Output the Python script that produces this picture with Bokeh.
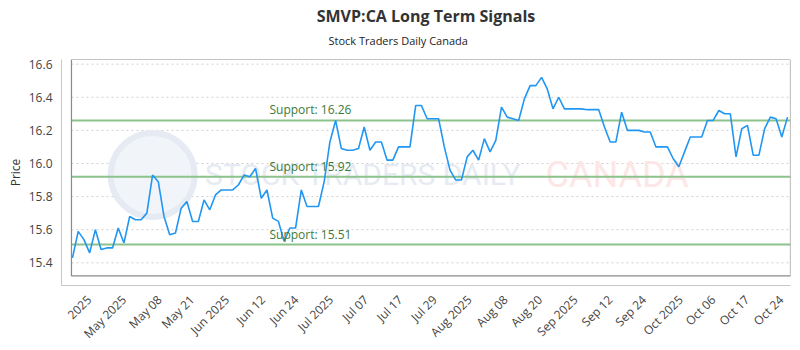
import numpy as np
from bokeh.plotting import figure
from bokeh.models import Label, BoxAnnotation, FixedTicker, ColumnDataSource, PrintfTickFormatter, Title
from bokeh.embed import file_html
from bokeh.resources import INLINE

# ---------------- data ----------------
prices = [
    15.43, 15.59, 15.54, 15.46, 15.60, 15.48, 15.49, 15.49, 15.61, 15.52,
    15.68, 15.66, 15.66, 15.70, 15.93, 15.89, 15.68, 15.57, 15.58, 15.73,
    15.77, 15.65, 15.65, 15.78, 15.72, 15.81, 15.84, 15.84, 15.84, 15.87,
    15.93, 15.92, 15.97, 15.79, 15.84, 15.67, 15.65, 15.53, 15.61, 15.61,
    15.84, 15.74, 15.74, 15.74, 15.89, 16.13, 16.26, 16.09, 16.08, 16.08,
    16.09, 16.22, 16.08, 16.13, 16.13, 16.02, 16.02, 16.10, 16.10, 16.10,
    16.35, 16.35, 16.27, 16.27, 16.27, 16.10, 15.96, 15.90, 15.90, 16.04,
    16.08, 16.02, 16.15, 16.07, 16.14, 16.34, 16.28, 16.27, 16.26, 16.39,
    16.47, 16.47, 16.52, 16.45, 16.33, 16.40, 16.33, 16.33, 16.33, 16.33,
    16.325, 16.325, 16.325, 16.22, 16.13, 16.13, 16.31, 16.20, 16.20, 16.20,
    16.19, 16.19, 16.10, 16.10, 16.10, 16.03, 15.98, 16.07, 16.16, 16.16,
    16.16, 16.26, 16.26, 16.32, 16.30, 16.30, 16.04, 16.21, 16.23, 16.05,
    16.05, 16.21, 16.28, 16.27, 16.16, 16.28,
]
tick_pos = [2.9, 9.0, 15.2, 20.9, 27.0, 33.3, 39.1, 45.2, 51.3, 57.3, 63.3, 69.4,
            75.7, 81.7, 87.9, 94.0, 99.9, 106.3, 112.0, 117.9, 123.9]
tick_labels = ["2025", "May 2025", "May 08", "May 21", "Jun 2025", "Jun 12", "Jun 24",
               "Jul 2025", "Jul 07", "Jul 17", "Jul 29", "Aug 2025", "Aug 08", "Aug 20",
               "Sep 2025", "Sep 12", "Sep 24", "Oct 2025", "Oct 06", "Oct 17", "Oct 24"]
y_ticks = [15.4, 15.6, 15.8, 16.0, 16.2, 16.4, 16.6]
support_levels = [16.26, 15.92, 15.51]
title_text = "SMVP:CA Long Term Signals"
subtitle_text = "Stock Traders Daily Canada"

# ---------------- layout constants ----------------
X_START, X_END = -1.92, 125.52
Y_START, Y_END = 15.263, 16.628
INNER_LEFT = -0.175
INNER_BOTTOM = 15.321
FONT = "Open Sans"

idx = list(range(len(prices)))
src = ColumnDataSource(data=dict(x=idx, y=prices))

p = figure(width=800, height=350, output_backend="svg", toolbar_location=None,
           x_range=(X_START, X_END), y_range=(Y_START, Y_END),
           min_border_left=61, min_border_right=10, min_border_top=59, min_border_bottom=54,
           title=None)
p.outline_line_color = None
p.background_fill_color = "white"
p.border_fill_color = "white"

# titles: spacer (closest to frame), subtitle, main title
p.add_layout(Title(text=" ", text_font_size="1px", standoff=9), "above")
p.add_layout(Title(text=subtitle_text, align="left", offset=267, text_font=FONT,
                   text_font_size="11px", text_font_style="normal", text_color="#222222",
                   standoff=0), "above")
p.add_layout(Title(text=title_text, align="center", offset=-25, text_font=FONT,
                   text_font_size="16px", text_font_style="bold", text_color="#333333",
                   vertical_align="top", standoff=4), "above")

# grid off; own dotted gridlines inside the inner box
p.xgrid.visible = False
p.ygrid.visible = False
p.segment(x0=[INNER_LEFT] * len(y_ticks), x1=[X_END] * len(y_ticks), y0=y_ticks, y1=y_ticks,
          line_color="#d0d0d0", line_width=1, line_dash="2 3", level="underlay")

# watermark
wm_x = X_START + (X_END - X_START) * 0.125
wm_y = Y_START + (Y_END - Y_START) * 0.489
p.scatter(x=[wm_x], y=[wm_y], size=84, marker="circle", fill_color="#f1f4f9",
          line_color="#e6ebf3", line_width=6, level="underlay")
p.add_layout(Label(x=X_START + (X_END - X_START) * 0.197, y=wm_y, text="STOCK TRADERS DAILY",
                   text_font="Roboto", text_font_size="30px",
                   text_color="#e6ebf3", text_baseline="middle", level="underlay"))
p.add_layout(Label(x=X_START + (X_END - X_START) * 0.664, y=wm_y, text="CANADA",
                   text_font="Roboto", text_font_size="36px",
                   text_color="#fde6e6", text_baseline="middle", level="underlay"))

# inner box
p.add_layout(BoxAnnotation(left=INNER_LEFT, right=X_END, bottom=INNER_BOTTOM, top=Y_END,
                           fill_alpha=0, line_color="#8a8a8a", line_alpha=1.0,
                           line_dash="solid", line_width=1.2))

# support lines
p.segment(x0=[INNER_LEFT] * len(support_levels), x1=[X_END] * len(support_levels),
          y0=support_levels, y1=support_levels, line_color="#8cc28c", line_width=2)
for lvl in support_levels:
    p.add_layout(Label(x=34.44, y=lvl, y_offset=2, text=f"Support: {lvl:.2f}",
                       text_font=FONT, text_font_size="12px", text_color="#3b7a3b",
                       text_baseline="bottom"))

# price line
p.line("x", "y", source=src, line_color="#2196f3", line_width=1.6)

# axes
p.xaxis.ticker = FixedTicker(ticks=tick_pos)
p.xaxis.major_label_overrides = {t: lab for t, lab in zip(tick_pos, tick_labels)}
p.xaxis.major_label_orientation = np.pi / 4
p.xaxis.major_label_text_font = FONT
p.xaxis.major_label_text_font_size = "12px"
p.xaxis.major_label_text_color = "#444444"
p.xaxis.axis_line_color = "#c8c8c8"
p.xaxis.major_tick_line_color = None
p.xaxis.minor_tick_line_color = None
p.xaxis.major_tick_out = 0
p.xaxis.major_tick_in = 0
p.xaxis.minor_tick_out = 0
p.xaxis.major_label_standoff = 12

p.yaxis.ticker = FixedTicker(ticks=y_ticks)
p.yaxis.formatter = PrintfTickFormatter(format="%.1f")
p.yaxis.major_label_text_font = FONT
p.yaxis.major_label_text_font_size = "12px"
p.yaxis.major_label_text_color = "#444444"
p.yaxis.axis_line_color = "#c8c8c8"
p.yaxis.major_tick_line_color = None
p.yaxis.minor_tick_line_color = None
p.yaxis.major_tick_out = 0
p.yaxis.major_tick_in = 0
p.yaxis.minor_tick_out = 0
p.yaxis.major_label_standoff = 9
p.yaxis.axis_label = "Price"
p.yaxis.axis_label_text_font = FONT
p.yaxis.axis_label_text_font_size = "12px"
p.yaxis.axis_label_text_font_style = "normal"
p.yaxis.axis_label_text_color = "#333333"
p.yaxis.axis_label_standoff = 2

open("out.html", "w").write(file_html(p, INLINE))
